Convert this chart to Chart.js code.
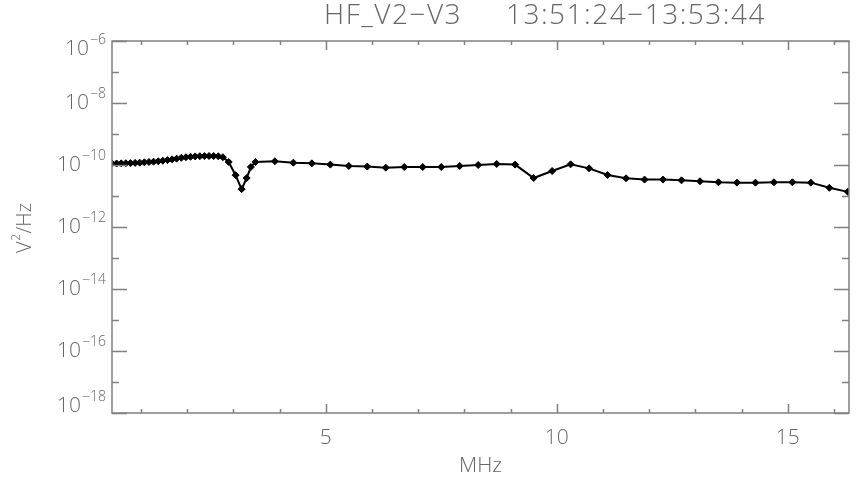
<!DOCTYPE html>
<html>
<head>
<meta charset="utf-8">
<script src="https://cdn.jsdelivr.net/npm/chart.js@4"></script>
<style>
  html, body { margin: 0; padding: 0; background: #fff; }
  canvas { display: block; }
</style>
</head>
<body>
<canvas id="spectrum" width="865" height="490"></canvas>
<script>
// spectrum (MHz, V^2/Hz)
const freqMHz = [
  0.375, 0.475, 0.575, 0.675, 0.775, 0.875, 0.975, 1.075, 1.175, 1.275,
  1.375, 1.475, 1.575, 1.675, 1.775, 1.875, 1.975, 2.075, 2.175, 2.275,
  2.375, 2.475, 2.575, 2.675, 2.775, 2.9, 3.05, 3.18, 3.29, 3.38, 3.48,
  3.9, 4.3, 4.7, 5.1, 5.5, 5.9, 6.3, 6.7, 7.1, 7.5, 7.9, 8.3, 8.7, 9.1,
  9.5, 9.9, 10.3, 10.7, 11.1, 11.5, 11.9, 12.3, 12.7, 13.1, 13.5, 13.9,
  14.3, 14.7, 15.1, 15.5, 15.9, 16.3
];
const powerV2Hz = [
  1.12e-10, 1.12e-10, 1.13e-10, 1.14e-10, 1.15e-10, 1.17e-10, 1.19e-10, 1.22e-10, 1.25e-10, 1.28e-10,
  1.32e-10, 1.37e-10, 1.44e-10, 1.52e-10, 1.60e-10, 1.70e-10, 1.78e-10, 1.84e-10, 1.89e-10, 1.92e-10,
  1.94e-10, 1.95e-10, 1.94e-10, 1.91e-10, 1.78e-10, 1.25e-10, 4.7e-11, 1.66e-11, 3.8e-11, 8.6e-11, 1.25e-10,
  1.32e-10, 1.19e-10, 1.13e-10, 1.03e-10, 9.3e-11, 8.9e-11, 8.2e-11, 8.6e-11, 8.6e-11, 8.6e-11, 9.3e-11, 1.0e-10, 1.08e-10, 1.03e-10,
  3.8e-11, 6.4e-11, 1.05e-10, 7.8e-11, 4.75e-11, 3.72e-11, 3.38e-11, 3.38e-11, 3.2e-11, 2.98e-11, 2.77e-11, 2.7e-11,
  2.7e-11, 2.77e-11, 2.77e-11, 2.7e-11, 1.84e-11, 1.36e-11
];
const yMajorExps = [-6, -8, -10, -12, -14, -16, -18];
const yMinorExps = [-7, -9, -11, -13, -15, -17];
const xMajorTicks = [5, 10, 15];
const xMinorTicks = [1, 2, 3, 4, 6, 7, 8, 9, 11, 12, 13, 14, 16];
const plotTitle = 'HF_V2\u2212V3     13:51:24\u221213:53:44';
const xTitle = 'MHz';

const INK = '#666';
const FONT = "'Open Sans', 'DejaVu Sans', sans-serif";

const points = freqMHz.map((f, i) => ({ x: f, y: powerV2Hz[i] }));

// IDL style frame: inward ticks on all four sides, superscript labels
const idlFrame = {
  id: 'idlFrame',
  afterDraw(chart) {
    const ctx = chart.ctx;
    const a = chart.chartArea;
    const xs = chart.scales.x, ys = chart.scales.y;
    ctx.save();
    ctx.strokeStyle = '#808080';
    ctx.lineWidth = 1.5;
    ctx.strokeRect(a.left, a.top, a.right - a.left, a.bottom - a.top);

    ctx.beginPath();
    const yTick = (exp, len) => {
      const py = Math.round(ys.getPixelForValue(Math.pow(10, exp))) + 0.5;
      ctx.moveTo(a.left, py); ctx.lineTo(a.left + len, py);
      ctx.moveTo(a.right, py); ctx.lineTo(a.right - len, py);
    };
    yMajorExps.forEach(e => yTick(e, 15));
    yMinorExps.forEach(e => yTick(e, 7));
    const xTick = (v, len) => {
      const px = Math.round(xs.getPixelForValue(v)) + 0.5;
      ctx.moveTo(px, a.bottom); ctx.lineTo(px, a.bottom - len);
      ctx.moveTo(px, a.top); ctx.lineTo(px, a.top + len);
    };
    xMajorTicks.forEach(v => xTick(v, 9));
    xMinorTicks.forEach(v => xTick(v, 4));
    ctx.stroke();

    ctx.fillStyle = INK;
    // y labels 10^n
    yMajorExps.forEach(e => {
      let py = ys.getPixelForValue(Math.pow(10, e));
      py = Math.min(Math.max(py, a.top + 8), a.bottom - 7);
      const sup = '\u2212' + Math.abs(e);
      ctx.font = '300 14px ' + FONT;
      const supW = ctx.measureText(sup).width;
      ctx.textAlign = 'right';
      ctx.textBaseline = 'middle';
      ctx.fillText(sup, 106, py - 9);
      ctx.font = '300 21px ' + FONT;
      ctx.fillText('10', 106 - supW - 1, py);
    });

    // x labels
    ctx.font = '300 21px ' + FONT;
    ctx.textAlign = 'center';
    ctx.textBaseline = 'middle';
    xMajorTicks.forEach(v => ctx.fillText(String(v), xs.getPixelForValue(v), 438));
    ctx.fillText(xTitle, (a.left + a.right) / 2, 466);

    // title
    ctx.font = '300 28px ' + FONT;
    ctx.letterSpacing = '1.5px';
    ctx.fillText(plotTitle, 545, 16);
    ctx.letterSpacing = '0px';

    // y title V^2/Hz rotated
    ctx.translate(25, 228);
    ctx.rotate(-Math.PI / 2);
    ctx.textAlign = 'left';
    ctx.font = '300 20px ' + FONT;
    const wV = ctx.measureText('V').width;
    ctx.font = '300 12px ' + FONT;
    const w2 = ctx.measureText('2').width;
    ctx.font = '300 20px ' + FONT;
    const wRest = ctx.measureText('/Hz').width;
    let x0 = -(wV + w2 + 1 + wRest) / 2;
    ctx.fillText('V', x0, 0);
    ctx.font = '300 12px ' + FONT;
    ctx.fillText('2', x0 + wV + 0.5, -8);
    ctx.font = '300 20px ' + FONT;
    ctx.fillText('/Hz', x0 + wV + w2 + 1, 0);
    ctx.restore();
  }
};

new Chart(document.getElementById('spectrum'), {
  type: 'line',
  data: {
    datasets: [{
      data: points,
      borderColor: '#000',
      borderWidth: 2,
      backgroundColor: '#000',
      pointStyle: 'rectRot',
      pointRadius: 3.5,
      pointBorderWidth: 1,
      pointBorderColor: '#000',
      pointBackgroundColor: '#000',
      tension: 0
    }]
  },
  options: {
    responsive: false,
    animation: false,
    devicePixelRatio: 1,
    layout: { padding: { left: 112, right: 16, top: 41, bottom: 77 } },
    plugins: { legend: { display: false }, tooltip: { enabled: false } },
    scales: {
      x: { type: 'linear', min: 0.375, max: 16.325, display: false },
      y: { type: 'logarithmic', min: 1e-18, max: 1e-6, display: false }
    }
  },
  plugins: [idlFrame]
});
</script>
</body>
</html>
